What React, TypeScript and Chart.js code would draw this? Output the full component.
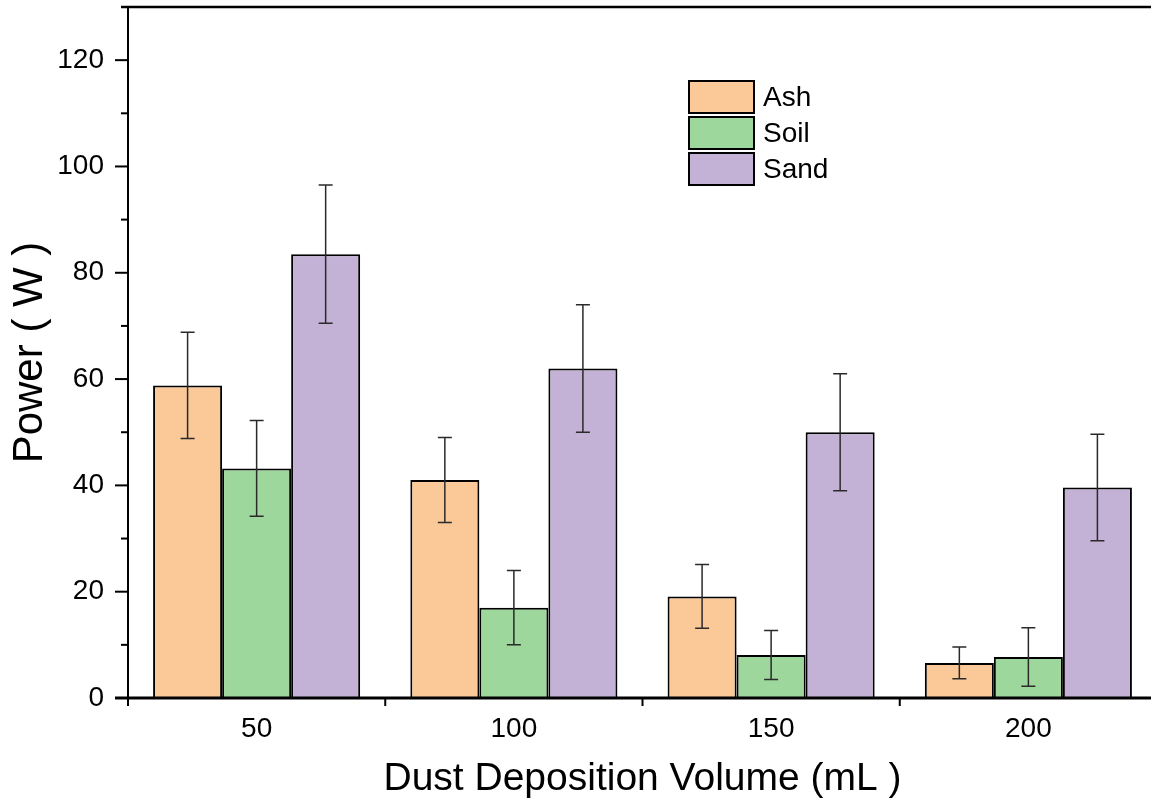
import React, { useEffect, useRef } from "react";
import { Chart, registerables } from "chart.js";

Chart.register(...registerables);

const categories = ["50", "100", "150", "200"];
const seriesNames = ["Ash", "Soil", "Sand"];
const ashValues = [58.8, 41.0, 19.1, 6.6];
const soilValues = [43.2, 17.0, 8.1, 7.7];
const sandValues = [83.5, 62.0, 50.0, 39.6];
const ashErrors = [10.0, 8.0, 6.0, 3.0];
const soilErrors = [9.0, 7.0, 4.6, 5.5];
const sandErrors = [13.0, 12.0, 11.0, 10.0];
const seriesColors = ["#FBC998", "#9ED79B", "#C3B2D6"];
const yMax = 130;
const yStep = 10;
const yLabelStep = 20;

const FONT = "'Liberation Sans', Arial, sans-serif";

const errorBarPlugin = {
  id: "errorBars",
  afterDatasetsDraw(chart: any) {
    const ctx = chart.ctx;
    const y = chart.scales.y;
    const errs = [ashErrors, soilErrors, sandErrors];
    ctx.save();
    ctx.strokeStyle = "#2a2a2a";
    ctx.lineWidth = 1.5;
    chart.data.datasets.forEach((ds: any, di: number) => {
      const meta = chart.getDatasetMeta(di);
      meta.data.forEach((el: any, i: number) => {
        const v = ds.data[i];
        const e = errs[di][i];
        const x = el.x;
        const yt = y.getPixelForValue(v + e);
        const yb = y.getPixelForValue(v - e);
        ctx.beginPath();
        ctx.moveTo(x, yt);
        ctx.lineTo(x, yb);
        ctx.moveTo(x - 7, yt);
        ctx.lineTo(x + 7, yt);
        ctx.moveTo(x - 7, yb);
        ctx.lineTo(x + 7, yb);
        ctx.stroke();
      });
    });
    ctx.restore();
  },
};

const axesPlugin = {
  id: "axesFrame",
  afterDatasetsDraw(chart: any) {
    const ctx = chart.ctx;
    const { left, right, top, bottom } = chart.chartArea;
    const y = chart.scales.y;
    const x = chart.scales.x;
    ctx.save();
    ctx.strokeStyle = "#000";
    ctx.lineWidth = 2;
    for (let v = 0; v <= yMax; v += yStep) {
      const py = y.getPixelForValue(v);
      const len = v % yLabelStep === 0 ? 13 : 7;
      ctx.beginPath();
      ctx.moveTo(left - len, py);
      ctx.lineTo(left, py);
      ctx.stroke();
    }
    const n = categories.length;
    const half = (x.getPixelForValue(1) - x.getPixelForValue(0)) / 2;
    for (let i = 0; i <= n; i++) {
      const px = i < n ? x.getPixelForValue(i) - half : right;
      ctx.beginPath();
      ctx.moveTo(px, bottom);
      ctx.lineTo(px, bottom + 8);
      ctx.stroke();
    }
    ctx.lineWidth = 2;
    ctx.beginPath();
    ctx.moveTo(left, top);
    ctx.lineTo(left, bottom);
    ctx.stroke();
    ctx.lineWidth = 2.5;
    ctx.beginPath();
    ctx.moveTo(left - 7, top);
    ctx.lineTo(right, top);
    ctx.stroke();
    ctx.lineWidth = 3;
    ctx.beginPath();
    ctx.moveTo(left - 13, bottom);
    ctx.lineTo(right, bottom);
    ctx.stroke();
    ctx.restore();
  },
};

const legendPlugin = {
  id: "customLegend",
  afterDraw(chart: any) {
    const ctx = chart.ctx;
    ctx.save();
    const bx = 689;
    const bw = 65;
    const bh = 32;
    const tops = [81, 117, 153];
    chart.data.datasets.forEach((ds: any, i: number) => {
      const ty = tops[i];
      ctx.fillStyle = ds.backgroundColor;
      ctx.fillRect(bx, ty, bw, bh);
      ctx.strokeStyle = "#000";
      ctx.lineWidth = 2;
      ctx.strokeRect(bx, ty, bw, bh);
      ctx.fillStyle = "#000";
      ctx.font = `28px ${FONT}`;
      ctx.textAlign = "left";
      ctx.textBaseline = "middle";
      ctx.fillText(ds.label, bx + bw + 9, ty + bh / 2 + 1);
    });
    ctx.restore();
  },
};

export default function App() {
  const ref = useRef<HTMLCanvasElement | null>(null);
  useEffect(() => {
    if (!ref.current) return;
    const values = [ashValues, soilValues, sandValues];
    const chart = new Chart(ref.current, {
      type: "bar",
      data: {
        labels: categories,
        datasets: seriesNames.map((name, i) => ({
          label: name,
          data: values[i],
          backgroundColor: seriesColors[i],
          borderColor: "#000",
          borderWidth: 2,
          categoryPercentage: 0.805,
          barPercentage: 1.0,
        })),
      },
      options: {
        responsive: false,
        animation: false,
        devicePixelRatio: 1,
        layout: { padding: { top: 7, right: 8, left: 0, bottom: 0 } },
        plugins: { legend: { display: false }, tooltip: { enabled: false } },
        scales: {
          x: {
            grid: { display: false, drawTicks: false },
            border: { display: false },
            ticks: { color: "#000", font: { family: FONT, size: 28 }, padding: 14 },
            title: {
              display: true,
              text: "Dust Deposition Volume (mL )",
              color: "#000",
              font: { family: FONT, size: 39, lineHeight: 1.2 },
              padding: { top: 0, bottom: 0 },
            },
            afterFit: (s: any) => {
              s.height = 105;
              s.paddingLeft = 0;
              s.paddingRight = 0;
            },
          },
          y: {
            min: 0,
            max: yMax,
            grid: { display: false, drawTicks: false },
            border: { display: false },
            ticks: {
              stepSize: yStep,
              color: "#000",
              font: { family: FONT, size: 28 },
              padding: 24,
              callback: (v: any) => (Number(v) % yLabelStep === 0 && Number(v) < yMax ? String(v) : ""),
            },
            title: {
              display: true,
              text: "Power ( W )",
              color: "#000",
              font: { family: FONT, size: 42, lineHeight: 1.2 },
              padding: { top: 5, bottom: 0 },
            },
            afterFit: (s: any) => {
              s.width = 128;
              s.paddingTop = 0;
              s.paddingBottom = 0;
            },
          },
        },
      },
      plugins: [errorBarPlugin, axesPlugin, legendPlugin],
    });
    return () => chart.destroy();
  }, []);
  return (
    <div style={{ position: "fixed", left: 0, top: 0, width: 1151, height: 803, overflow: "hidden", background: "#fff" }}>
      <canvas ref={ref} width={1165} height={803} style={{ width: 1165, height: 803, display: "block" }} />
    </div>
  );
}
